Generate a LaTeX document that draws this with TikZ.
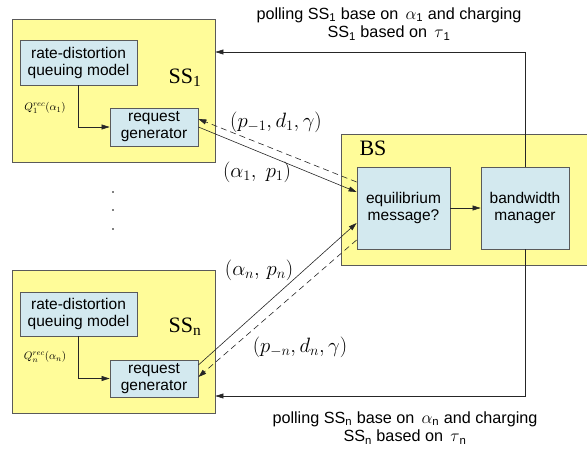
\documentclass[tikz,border=0pt]{standalone}
\usepackage{fontspec}
\setmainfont{Liberation Sans}
\newfontfamily\serifB{Liberation Serif}
\usetikzlibrary{arrows.meta}
\definecolor{ssyellow}{HTML}{FFFC99}
\definecolor{boxblue}{HTML}{D3E9EF}
\definecolor{edgegray}{HTML}{5A5A5A}
\begin{document}
\begin{tikzpicture}[x=1pt,y=-1pt,
  station/.style={draw=edgegray, fill=ssyellow, line width=0.8pt, minimum width=203pt, minimum height=143pt, inner sep=0pt},
  block/.style={draw=edgegray, fill=boxblue, line width=0.8pt, align=center, inner sep=0pt, font=\fontsize{15.5}{17}\selectfont},
  conn/.style={draw=black!85, line width=0.6pt},
  tip/.style={-{Triangle[length=8pt,width=5pt]}},
  dashline/.style={dash pattern=on 6pt off 4pt},
  bigserif/.style={font=\serifB\fontsize{22}{24}\selectfont},
  mathlbl/.style={font=\fontsize{20.5}{23}\selectfont, inner sep=0pt},
  smallmath/.style={font=\fontsize{11}{12}\selectfont, inner sep=0pt},
  caption/.style={font=\fontsize{16.2}{18.5}\selectfont, align=center, inner sep=0pt}
]
\useasboundingbox (0,0) rectangle (587,450);

% subscriber stations
\node[station] (SS1) at (113.5,90.5) {};
\node[station] (SSn) at (113.5,341.5) {};
\node[bigserif] (ss1lbl) at (185,78) {SS\textsubscript{1}};
\node[bigserif] (ssnlbl) at (185,327) {SS\textsubscript{n}};

\node[block, minimum width=117pt, minimum height=45pt] (rd1) at (78.5,62.5) {rate-distortion\\queuing model};
\node[block, minimum width=88pt, minimum height=38pt] (rg1) at (154,127) {request\\generator};
\node[block, minimum width=117pt, minimum height=44pt] (rdn) at (78.5,314) {rate-distortion\\queuing model};
\node[block, minimum width=88pt, minimum height=37pt] (rgn) at (154,378.5) {request\\generator};

\node[smallmath] (q1) at (45,108) {$Q_1^{rec}(\alpha_1)$};
\node[smallmath] (qn) at (45,357) {$Q_n^{rec}(\alpha_n)$};

% base station
\fill[ssyellow] (341,134) rectangle (587,265);
\draw[edgegray, line width=0.8pt] (587,134) -- (341,134) -- (341,265) -- (587,265);
\node[bigserif] (bslbl) at (373,148) {BS};
\node[block, minimum width=93pt, minimum height=82pt] (eq) at (403.5,208) {equilibrium\\message?};
\node[block, minimum width=88pt, minimum height=82pt] (bw) at (525,208) {bandwidth\\manager};

% dots
\fill (113,192) circle (0.9);
\fill (113,210) circle (0.9);
\fill (113,229) circle (0.9);

% internal connectors
\draw[conn, tip] (rd1.south) |- (rg1.west);
\draw[conn, tip] (rdn.south) |- (rgn.west);
\draw[conn, tip] (eq.east) -- (bw.west);

% polling loops
\coordinate (t1) at (525,52);
\coordinate (b1) at (525,396);
\draw[conn, tip] (bw.north) -- (t1) -- (SS1.east |- t1);
\draw[conn, tip] (bw.south) -- (b1) -- (SSn.east |- b1);

% message exchange
\draw[conn, tip] (rg1.east) -- ([yshift=16pt]eq.west);
\draw[conn, tip, dashline] ([yshift=26pt]eq.west) -- ([yshift=8pt]rg1.east);
\draw[conn, tip] ([yshift=13.5pt]rgn.east) -- ([yshift=-15pt]eq.west);
\draw[conn, tip, dashline] ([yshift=-32pt]eq.west) -- ([yshift=1.5pt]rgn.east);

% labels
\node[mathlbl] (l1) at (276,122) {$(p_{-1},d_1,\gamma)$};
\node[mathlbl] (l2) at (257,172) {$(\alpha_1,\;p_1)$};
\node[mathlbl] (l3) at (259,270) {$(\alpha_n,\,p_n)$};
\node[mathlbl] (l4) at (300,347) {$(p_{-n},d_n,\gamma)$};

\node[caption] (top) at (389,24) {polling SS\textsubscript{1} base on \,$\alpha$\textsubscript{1} and charging\\SS\textsubscript{1} based on \,$\tau$\textsubscript{1}};
\node[caption] (bot) at (405,428) {polling SS\textsubscript{n} base on \,$\alpha$\textsubscript{n} and charging\\SS\textsubscript{n} based on \,$\tau$\textsubscript{n}};
\end{tikzpicture}
\end{document}
